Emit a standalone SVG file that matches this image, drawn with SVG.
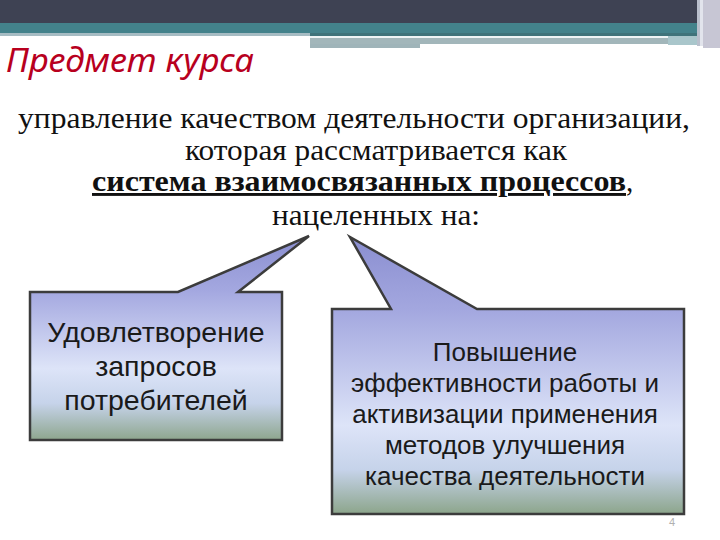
<svg xmlns="http://www.w3.org/2000/svg" width="720" height="540" viewBox="0 0 720 540">
<defs>
<style>
.title{font-family:"Noto Sans","Open Sans","DejaVu Sans",sans-serif;font-style:italic;font-size:32px;fill:#b8001e}
.body{font-family:"Liberation Serif","Times New Roman",serif;font-size:29px;fill:#111}
.bold{font-weight:bold;text-decoration:underline}
.box{font-family:"Liberation Sans",Arial,sans-serif;fill:#1a1a1a;text-anchor:middle}
.bl{font-size:28.5px}
.br{font-size:26px}
.callout{stroke:#3c3c3c;stroke-width:2.5;stroke-linejoin:miter}
.pg{font-family:"Liberation Sans",Arial,sans-serif;font-size:11px;fill:#b0b0b0}
</style>
<linearGradient id="gL" gradientUnits="userSpaceOnUse" x1="0" y1="236" x2="0" y2="440">
<stop offset="0" stop-color="#8a8ed0"/>
<stop offset="0.27" stop-color="#a4a8e0"/>
<stop offset="0.65" stop-color="#dde4f8"/>
<stop offset="0.82" stop-color="#c6d3ea"/>
<stop offset="1" stop-color="#8ea68e"/>
</linearGradient>
<linearGradient id="gR" gradientUnits="userSpaceOnUse" x1="0" y1="237" x2="0" y2="514">
<stop offset="0" stop-color="#8a8ed0"/>
<stop offset="0.26" stop-color="#a3a7df"/>
<stop offset="0.68" stop-color="#dde4f8"/>
<stop offset="0.84" stop-color="#c6d3ea"/>
<stop offset="1" stop-color="#8ca58b"/>
</linearGradient>
</defs>
<rect width="720" height="540" fill="#ffffff"/>
<g id="header">
<rect x="0" y="0" width="697" height="23" fill="#3e4253"/>
<rect x="0" y="23" width="697" height="10" fill="#43828b"/>
<rect x="0" y="33" width="310" height="3" fill="#a6bcc3"/>
<rect x="310" y="33" width="387" height="3" fill="#3f737a"/>
<rect x="310" y="36" width="358" height="2" fill="#eef4f5"/>
<rect x="310" y="38" width="358" height="6" fill="#a2b6ba"/>
<rect x="310" y="44" width="110" height="4" fill="#9fb4b9"/>
<rect x="668" y="36" width="29" height="9" fill="#a9c6cb"/>
<rect x="697" y="0" width="3" height="46" fill="#b9bfcc"/>
<rect x="700" y="0" width="3" height="46" fill="#e2e4ec"/>
<rect x="703" y="0" width="17" height="48" fill="#c7c6d4"/>
</g>
<g id="title">
<text class="title" x="6" y="72" textLength="248" lengthAdjust="spacingAndGlyphs">Предмет курса</text>
</g>
<g id="subject-text">
<text class="body" x="18" y="128" textLength="672" lengthAdjust="spacingAndGlyphs">управление качеством деятельности организации,</text>
<text class="body" x="185" y="160" textLength="382" lengthAdjust="spacingAndGlyphs">которая рассматривается как</text>
<text class="body" x="92" y="191"><tspan class="bold" textLength="534" lengthAdjust="spacingAndGlyphs">система взаимосвязанных процессов</tspan><tspan>,</tspan></text>
<text class="body" x="272" y="225" textLength="208" lengthAdjust="spacingAndGlyphs">нацеленных на:</text>
</g>
<g id="connectors"/>
<g id="callout-left">
<path class="callout" fill="url(#gL)" d="M30,292 L178,292 L309,236 L238,292 L282,292 L282,440 L30,440 Z"/>
<text class="box bl" x="156" y="342">Удовлетворение</text>
<text class="box bl" x="156" y="376">запросов</text>
<text class="box bl" x="156" y="410">потребителей</text>
</g>
<g id="callout-right">
<path class="callout" fill="url(#gR)" d="M332,309 L391,309 L350,237 L477,309 L684,309 L684,514 L332,514 Z"/>
<text class="box br" x="505" y="361">Повышение</text>
<text class="box br" x="505" y="392">эффективности работы и</text>
<text class="box br" x="505" y="423">активизации применения</text>
<text class="box br" x="505" y="454">методов улучшения</text>
<text class="box br" x="505" y="485">качества деятельности</text>
</g>
<g id="page-number">
<text class="pg" x="669" y="526">4</text>
</g>
</svg>
